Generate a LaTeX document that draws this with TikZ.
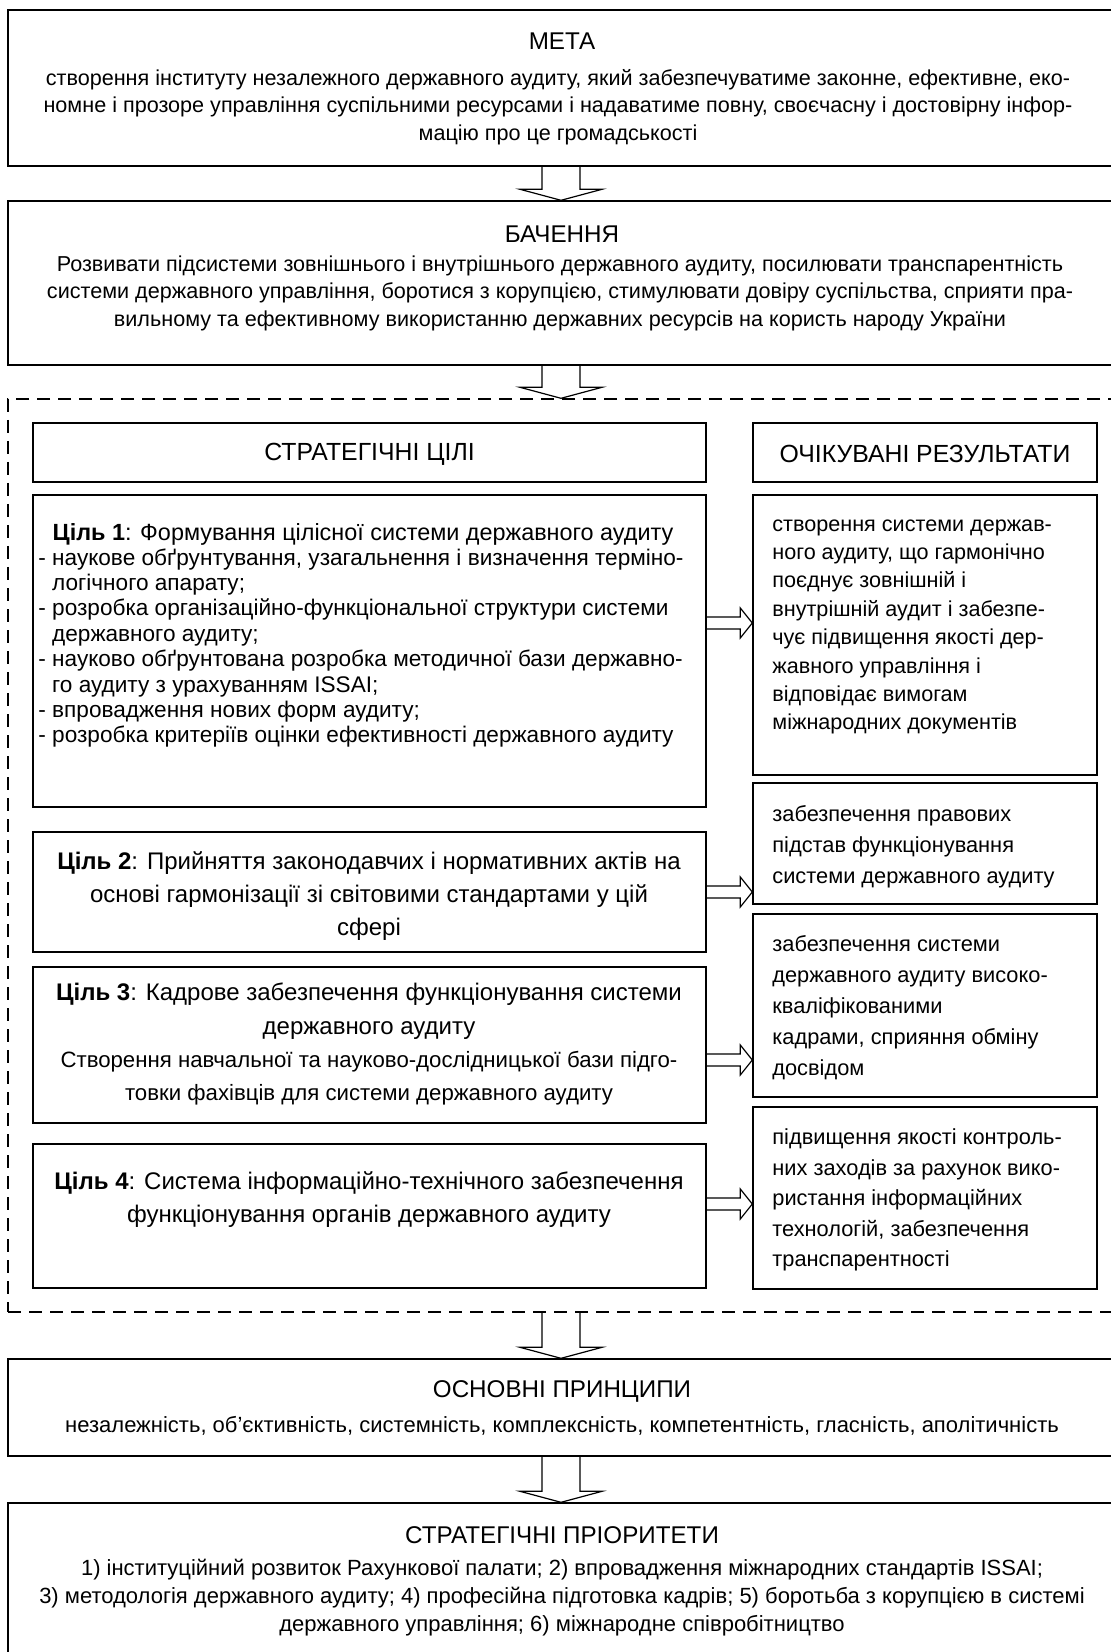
\documentclass[tikz,border=0pt]{standalone}
\usepackage{fontspec}
\setmainfont{Liberation Sans}
\usetikzlibrary{calc,fit}

% vertical block arrow from the bottom of #1 to the top of #2, on the axis (ax)
\newcommand{\downblock}[2]{%
  \draw[blockarrow] ($(ax |- #1.south)+(-19,0)$) -- ($(ax |- #2.north)+(-19,-11)$)
    -- ($(ax |- #2.north)+(-41,-11)$) -- (ax |- #2.north)
    -- ($(ax |- #2.north)+(41,-11)$) -- ($(ax |- #2.north)+(19,-11)$)
    -- ($(ax |- #1.south)+(19,0)$);}
% horizontal block arrow from #1 to #2 at the height of coordinate #3
\newcommand{\rightblock}[3]{%
  \draw[blockarrow] ($(#1.east |- #3)+(0,-6)$) -- ($(#2.west |- #3)+(-12,-6)$)
    -- ($(#2.west |- #3)+(-12,-15)$) -- (#2.west |- #3)
    -- ($(#2.west |- #3)+(-12,15)$) -- ($(#2.west |- #3)+(-12,6)$)
    -- ($(#1.east |- #3)+(0,6)$);}

\begin{document}
\begin{tikzpicture}[x=0.5pt,y=-0.5pt,
  panel/.style={draw, line width=0.7pt, inner sep=0pt, rectangle},
  frame/.style={draw, line width=0.7pt, dash pattern=on 6.5pt off 4pt, inner sep=0pt, rectangle},
  blockarrow/.style={draw, line width=0.6pt, line join=miter},
  head/.style={font=\fontsize{12.1}{14}\selectfont, inner sep=0pt, align=center},
  colhead/.style={font=\fontsize{12.4}{14}\selectfont, inner sep=0pt, align=center},
  body/.style={font=\fontsize{10.8}{13.75}\selectfont, inner sep=0pt, align=center},
  goal/.style={font=\fontsize{12}{16.5}\selectfont, inner sep=0pt, align=center},
  result/.style={font=\fontsize{10.9}{15.4}\selectfont, inner sep=0pt, align=left, anchor=west}]
\useasboundingbox (0,0) rectangle (1111,1652);
\coordinate (ax) at (561,0);

% ---- boxes
\node[panel, fit={(8,10)(1116,166)}] (meta) {};
\node[panel, fit={(8,201)(1116,365)}] (bach) {};
\node[frame, fit={(8,399)(1116,1312)}] (strat) {};
\node[panel, fit={(33,423)(706,482)}] (goalshead) {};
\node[panel, fit={(753,423)(1097,482)}] (reshead) {};
\node[panel, fit={(33,495)(706,807)}] (g1) {};
\node[panel, fit={(753,495)(1097,775)}] (r1) {};
\node[panel, fit={(33,832)(706,952)}] (g2) {};
\node[panel, fit={(753,783)(1097,904)}] (r2) {};
\node[panel, fit={(33,967)(706,1123)}] (g3) {};
\node[panel, fit={(753,914)(1097,1097)}] (r3) {};
\node[panel, fit={(33,1144)(706,1288)}] (g4) {};
\node[panel, fit={(753,1107)(1097,1289)}] (r4) {};
\node[panel, fit={(8,1359)(1116,1456)}] (princ) {};
\node[panel, fit={(8,1503)(1116,1662)}] (prio) {};

% ---- arrows
\downblock{meta}{bach}
\downblock{bach}{strat}
\downblock{strat}{princ}
\downblock{princ}{prio}
\coordinate (y1) at (0,623);
\coordinate (y2) at (0,892);
\coordinate (y3) at (0,1060);
\coordinate (y4) at (0,1204);
\rightblock{g1}{r1}{y1}
\rightblock{g2}{r2}{y2}
\rightblock{g3}{r3}{y3}
\rightblock{g4}{r4}{y4}

% ---- texts
\node[head] (metah) at (562,41) {МЕТА};
\node[body] (metat) at (558,107) {створення інституту незалежного державного аудиту, який забезпечуватиме законне, ефективне, еко-\\
номне і прозоре управління суспільними ресурсами і надаватиме повну, своєчасну і достовірну інфор-\\
мацію про це громадськості};

\node[head] (bachh) at (562,234) {БАЧЕННЯ};
\node[body] (bacht) at (560,293) {Розвивати підсистеми зовнішнього і внутрішнього державного аудиту, посилювати транспарентність\\
системи державного управління, боротися з корупцією, стимулювати довіру суспільства, сприяти пра-\\
вильному та ефективному використанню державних ресурсів на користь народу України};

\node[colhead] (goalsheadt) at (369.5,454) {СТРАТЕГІЧНІ ЦІЛІ};
\node[colhead] (resheadt) at (925,454) {ОЧІКУВАНІ РЕЗУЛЬТАТИ};

\node[body, font=\fontsize{11.7}{14}\selectfont] (g1h) at (363,534) {\textbf{Ціль 1}: Формування цілісної системи державного аудиту};
\node[body, font=\fontsize{11.3}{12.7}\selectfont, align=left, anchor=west] (g1t) at (38,648) {- наукове обґрунтування, узагальнення і визначення терміно-\\
\phantom{-~}логічного апарату;\\
- розробка організаційно-функціональної структури системи\\
\phantom{-~}державного аудиту;\\
- науково обґрунтована розробка методичної бази державно-\\
\phantom{-~}го аудиту з урахуванням ISSAI;\\
- впровадження нових форм аудиту;\\
- розробка критеріїв оцінки ефективності державного аудиту};

\node[goal] (g2t) at (369,896) {\textbf{Ціль 2}: Прийняття законодавчих і нормативних актів на\\
основі гармонізації зі світовими стандартами у цій\\
сфері};

\node[goal, font=\fontsize{12}{16.8}\selectfont] (g3ta) at (369,1011) {\textbf{Ціль 3}: Кадрове забезпечення функціонування системи\\
державного аудиту};
\node[goal, font=\fontsize{11.1}{16.8}\selectfont] (g3tb) at (369,1078) {Створення навчальної та науково-дослідницької бази підго-\\
товки фахівців для системи державного аудиту};

\node[goal] (g4t) at (369,1200) {\textbf{Ціль 4}: Система інформаційно-технічного забезпечення\\
функціонування органів державного аудиту};

\node[result, font=\fontsize{10.8}{14.2}\selectfont] (r1t) at (772,627) {створення системи держав-\\
ного аудиту, що гармонічно\\
поєднує зовнішній і\\
внутрішній аудит і забезпе-\\
чує підвищення якості дер-\\
жавного управління і\\
відповідає вимогам\\
міжнародних документів};

\node[result, font=\fontsize{10.9}{15.5}\selectfont] (r2t) at (772,847) {забезпечення правових\\
підстав функціонування\\
системи державного аудиту};

\node[result, font=\fontsize{10.9}{15.5}\selectfont] (r3t) at (772,1008) {забезпечення системи\\
державного аудиту високо-\\
кваліфікованими\\
кадрами, сприяння обміну\\
досвідом};

\node[result, font=\fontsize{10.9}{15.25}\selectfont] (r4t) at (772,1200) {підвищення якості контроль-\\
них заходів за рахунок вико-\\
ристання інформаційних\\
технологій, забезпечення\\
транспарентності};

\node[head] (princh) at (562,1391) {ОСНОВНІ ПРИНЦИПИ};
\node[body, font=\fontsize{11}{13.75}\selectfont] (princt) at (562,1426) {незалежність, об’єктивність, системність, комплексність, компетентність, гласність, аполітичність};

\node[head] (prioh) at (562,1535) {СТРАТЕГІЧНІ ПРІОРИТЕТИ};
\node[body, font=\fontsize{11}{14}\selectfont] (priot) at (562,1598) {1) інституційний розвиток Рахункової палати; 2) впровадження міжнародних стандартів ISSAI;\\
3) методологія державного аудиту; 4) професійна підготовка кадрів; 5) боротьба з корупцією в системі\\
державного управління; 6) міжнародне співробітництво};
\end{tikzpicture}
\end{document}
